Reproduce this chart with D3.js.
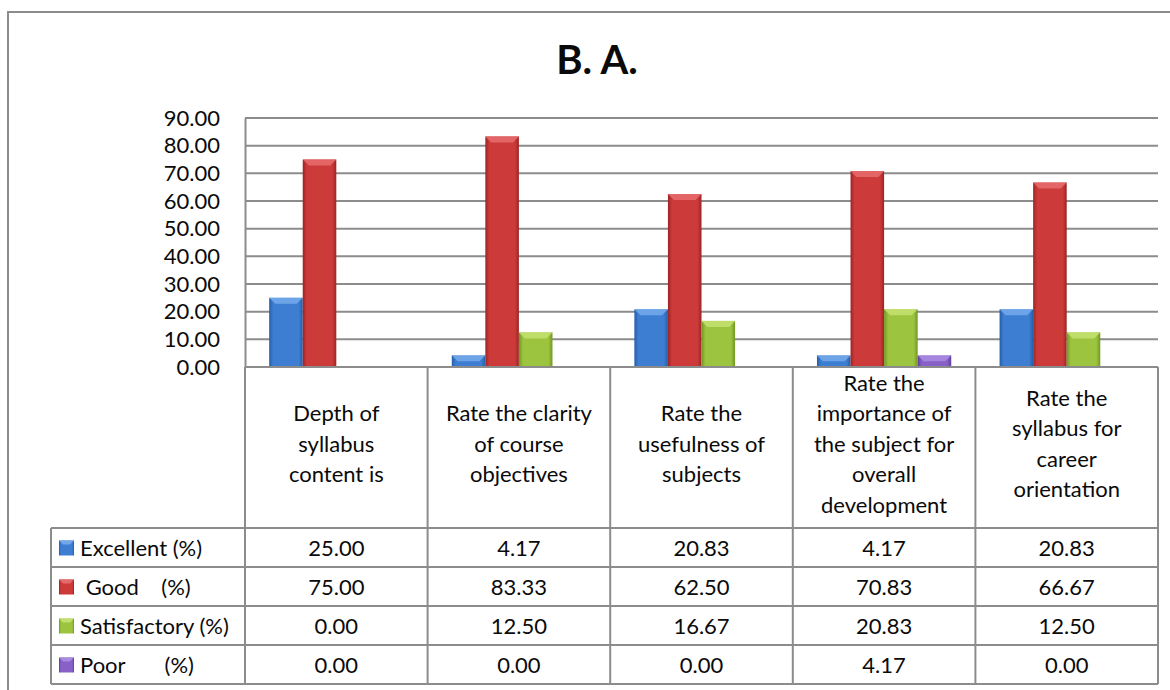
<!DOCTYPE html>
<html lang="en">
<head>
<meta charset="utf-8">
<title>B. A.</title>
<script src="https://d3js.org/d3.v7.min.js"></script>
<style>
  body { margin: 0; background: #fff; }
  text { font-family: Lato, "Open Sans", sans-serif; fill: #0a0a0a; }
  .pre { white-space: pre; }
</style>
</head>
<body>
<script>
// data
var title = "B. A.";
var categories = [
  "Depth of\nsyllabus\ncontent is",
  "Rate the clarity\nof course\nobjectives",
  "Rate the\nusefulness of\nsubjects",
  "Rate the\nimportance of\nthe subject for\noverall\ndevelopment",
  "Rate the\nsyllabus for\ncareer\norientation"
];
var seriesNames = ["Excellent (%)", " Good    (%)", "Satisfactory (%)", "Poor       (%)"];
var excellent = [25.00, 4.17, 20.83, 4.17, 20.83];
var good = [75.00, 83.33, 62.50, 70.83, 66.67];
var satisfactory = [0.00, 12.50, 16.67, 20.83, 12.50];
var poor = [0.00, 0.00, 0.00, 4.17, 0.00];
var yTicks = [0, 10, 20, 30, 40, 50, 60, 70, 80, 90];

var series = [excellent, good, satisfactory, poor];
var colors = [
  { face: "#3d7ed2", light: "#72a8ea", dark: "#245ea8" },
  { face: "#cd3a3a", light: "#e56a6a", dark: "#9c2424" },
  { face: "#9cc43e", light: "#c2e06e", dark: "#729624" },
  { face: "#8761c8", light: "#a98ae0", dark: "#5f3e98" }
];

var w = 1170, h = 690;
var plotLeft = 245, plotRight = 1158, plotTop = 118, plotBottom = 367;
var legendLeft = 51;
var headerBottom = 528, rowH = 39;
var gridColor = "#8c8c8c";

var svg = d3.select("body").append("svg")
  .attr("width", w)
  .attr("height", h);

// gradients for the bevelled bars
var defs = svg.append("defs");
colors.forEach(function(c, i) {
  var g = defs.append("linearGradient")
    .attr("id", "grad" + i)
    .attr("x1", "0%").attr("x2", "100%")
    .attr("y1", "0%").attr("y2", "0%");
  g.append("stop").attr("offset", "0%").attr("stop-color", c.dark);
  g.append("stop").attr("offset", "12%").attr("stop-color", c.face);
  g.append("stop").attr("offset", "88%").attr("stop-color", c.face);
  g.append("stop").attr("offset", "100%").attr("stop-color", c.dark);
});

// outer frame
svg.append("rect")
  .attr("x", 8).attr("y", 12)
  .attr("width", w).attr("height", h)
  .attr("fill", "none")
  .attr("stroke", gridColor)
  .attr("stroke-width", 2);

// title
svg.append("text")
  .attr("x", 597)
  .attr("y", 74)
  .attr("text-anchor", "middle")
  .attr("font-size", "40px")
  .attr("font-weight", "bold")
  .text(title);

// scales
var xScale = d3.scaleBand()
  .domain(d3.range(categories.length))
  .range([plotLeft, plotRight]);

var xInner = d3.scaleBand()
  .domain(d3.range(series.length))
  .range([0, xScale.bandwidth()])
  .paddingInner(0)
  .paddingOuter(0.72);

var yScale = d3.scaleLinear()
  .domain([0, 90])
  .range([plotBottom, plotTop]);

// gridlines
svg.append("g")
  .selectAll("line")
  .data(yTicks.slice(1))
  .enter()
  .append("line")
  .attr("x1", plotLeft)
  .attr("x2", plotRight)
  .attr("y1", function(d) { return yScale(d); })
  .attr("y2", function(d) { return yScale(d); })
  .attr("stroke", gridColor)
  .attr("stroke-width", 2);

// y axis
var yAxis = d3.axisLeft(yScale)
  .tickValues(yTicks)
  .tickFormat(d3.format(".2f"))
  .tickSize(0)
  .tickPadding(25);

var yG = svg.append("g")
  .attr("transform", "translate(" + plotLeft + ",0)")
  .call(yAxis);
yG.select(".domain").attr("stroke", gridColor).attr("stroke-width", 2);
yG.selectAll("text")
  .attr("font-size", "22px")
  .attr("font-family", "Lato, sans-serif")
  .attr("fill", "#0a0a0a");

// bars
series.forEach(function(vals, si) {
  var c = colors[si];
  var g = svg.append("g");
  var bw = xInner.bandwidth();
  var pts = vals.map(function(d, i) { return { v: d, i: i }; })
    .filter(function(d) { return d.v > 0; });

  g.selectAll("rect")
    .data(pts)
    .enter()
    .append("rect")
    .attr("x", function(d) { return xScale(d.i) + xInner(si); })
    .attr("y", function(d) { return yScale(d.v); })
    .attr("width", bw)
    .attr("height", function(d) { return plotBottom - yScale(d.v); })
    .attr("fill", "url(#grad" + si + ")");

  // top bevel
  g.selectAll("path")
    .data(pts)
    .enter()
    .append("path")
    .attr("d", function(d) {
      var x0 = xScale(d.i) + xInner(si);
      var y0 = yScale(d.v);
      var bh = Math.min(6, (plotBottom - y0) / 2);
      return "M" + x0 + "," + y0 +
        "L" + (x0 + bw) + "," + y0 +
        "L" + (x0 + bw - 6) + "," + (y0 + bh) +
        "L" + (x0 + 6) + "," + (y0 + bh) + "Z";
    })
    .attr("fill", c.light)
    .attr("opacity", 0.9);
});

// data table
var table = svg.append("g");
var tableBottom = headerBottom + rowH * series.length;

// vertical lines
var colEdges = d3.range(categories.length).map(function(i) { return xScale(i); }).concat([plotRight]);
table.selectAll("line.v")
  .data(colEdges)
  .enter()
  .append("line")
  .attr("class", "v")
  .attr("x1", function(d) { return d; })
  .attr("x2", function(d) { return d; })
  .attr("y1", plotBottom)
  .attr("y2", tableBottom)
  .attr("stroke", gridColor)
  .attr("stroke-width", 2);

table.append("line")
  .attr("x1", legendLeft).attr("x2", legendLeft)
  .attr("y1", headerBottom).attr("y2", tableBottom)
  .attr("stroke", gridColor).attr("stroke-width", 2);

// horizontal lines
table.append("line")
  .attr("x1", plotLeft).attr("x2", plotRight)
  .attr("y1", plotBottom).attr("y2", plotBottom)
  .attr("stroke", gridColor).attr("stroke-width", 2);

table.selectAll("line.h")
  .data(d3.range(series.length + 1))
  .enter()
  .append("line")
  .attr("class", "h")
  .attr("x1", legendLeft)
  .attr("x2", plotRight)
  .attr("y1", function(d) { return headerBottom + d * rowH; })
  .attr("y2", function(d) { return headerBottom + d * rowH; })
  .attr("stroke", gridColor)
  .attr("stroke-width", 2);

// category headers
var lineH = 30.5;
var headMid = (plotBottom + headerBottom) / 2 + 4;
categories.forEach(function(cat, i) {
  var lines = cat.split("\n");
  var t = table.append("text")
    .attr("text-anchor", "middle")
    .attr("font-size", "22px");
  lines.forEach(function(ln, j) {
    t.append("tspan")
      .attr("x", xScale(i) + xScale.bandwidth() / 2)
      .attr("y", headMid + (j - (lines.length - 1) / 2) * lineH)
      .text(ln);
  });
});

// legend column and values
series.forEach(function(vals, si) {
  var yMid = headerBottom + si * rowH + rowH / 2;
  var c = colors[si];

  table.append("rect")
    .attr("x", 59)
    .attr("y", yMid - 7)
    .attr("width", 15)
    .attr("height", 15)
    .attr("fill", "url(#grad" + si + ")");
  table.append("path")
    .attr("d", "M59," + (yMid - 7) + "L74," + (yMid - 7) + "L70," + (yMid - 3) + "L63," + (yMid - 3) + "Z")
    .attr("fill", c.light);

  table.append("text")
    .attr("class", "pre")
    .attr("xml:space", "preserve")
    .attr("x", 80)
    .attr("y", yMid + 8)
    .attr("font-size", "22px")
    .text(seriesNames[si]);

  table.selectAll("text.v" + si)
    .data(vals)
    .enter()
    .append("text")
    .attr("class", "v" + si)
    .attr("text-anchor", "middle")
    .attr("x", function(d, i) { return xScale(i) + xScale.bandwidth() / 2; })
    .attr("y", yMid + 8)
    .attr("font-size", "22px")
    .text(function(d) { return d3.format(".2f")(d); });
});
</script>
</body>
</html>
